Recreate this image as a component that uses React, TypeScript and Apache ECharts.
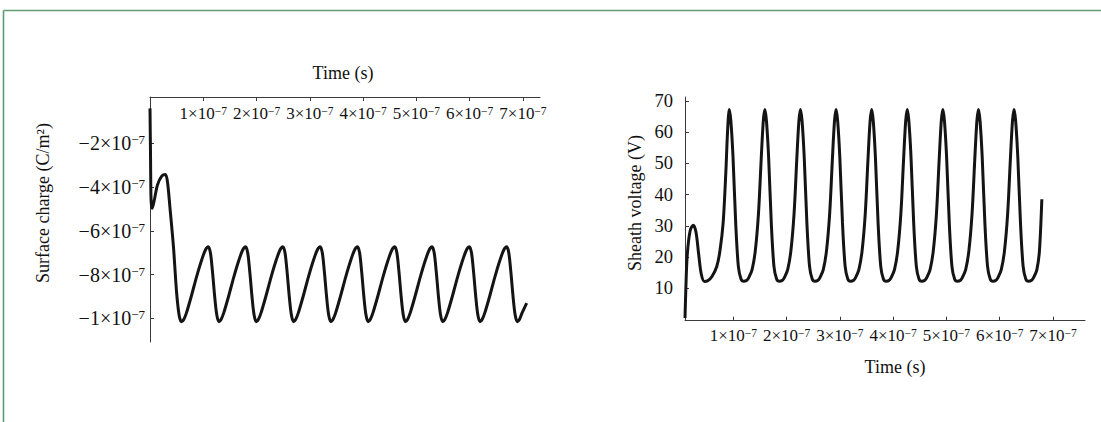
import React, { useEffect, useRef } from "react";
import * as echarts from "echarts";

// ---- Left panel: surface charge (time and charge both in units of 1e-7) ----
const leftTime = [
  0, 0.01, 0.02, 0.04, 0.08, 0.14, 0.22, 0.29, 0.33, 0.375, 0.44, 0.5, 0.55, 0.594,
  0.634, 0.684, 0.774, 0.874, 0.974, 1.044, 1.094, 1.134, 1.174, 1.214, 1.254, 1.294,
  1.334, 1.384, 1.474, 1.574, 1.674, 1.744, 1.794, 1.834, 1.874, 1.914, 1.954, 1.994,
  2.034, 2.084, 2.174, 2.274, 2.374, 2.444, 2.494, 2.534, 2.574, 2.614, 2.654, 2.694,
  2.734, 2.784, 2.874, 2.974, 3.074, 3.144, 3.194, 3.234, 3.274, 3.314, 3.354, 3.394,
  3.434, 3.484, 3.574, 3.674, 3.774, 3.844, 3.894, 3.934, 3.974, 4.014, 4.054, 4.094,
  4.134, 4.184, 4.274, 4.374, 4.474, 4.544, 4.594, 4.634, 4.674, 4.714, 4.754, 4.794,
  4.834, 4.884, 4.974, 5.074, 5.174, 5.244, 5.294, 5.334, 5.374, 5.414, 5.454, 5.494,
  5.534, 5.584, 5.674, 5.774, 5.874, 5.944, 5.994, 6.034, 6.074, 6.114, 6.154, 6.194,
  6.234, 6.284, 6.374, 6.474, 6.574, 6.644, 6.694, 6.734, 6.774, 6.814, 6.854, 6.894,
  6.934, 6.984, 7.07,
];
const leftCharge = [
  -0.4, -2.6, -4.6, -4.97, -4.6, -3.9, -3.5, -3.42, -3.8, -4.95, -6.72, -8.84, -9.9, -10.15,
  -10.05, -9.75, -9.0, -8.1, -7.3, -6.85, -6.72, -7.0, -7.9, -9.0, -9.85, -10.15,
  -10.05, -9.75, -9.0, -8.1, -7.3, -6.85, -6.72, -7.0, -7.9, -9.0, -9.85, -10.15,
  -10.05, -9.75, -9.0, -8.1, -7.3, -6.85, -6.72, -7.0, -7.9, -9.0, -9.85, -10.15,
  -10.05, -9.75, -9.0, -8.1, -7.3, -6.85, -6.72, -7.0, -7.9, -9.0, -9.85, -10.15,
  -10.05, -9.75, -9.0, -8.1, -7.3, -6.85, -6.72, -7.0, -7.9, -9.0, -9.85, -10.15,
  -10.05, -9.75, -9.0, -8.1, -7.3, -6.85, -6.72, -7.0, -7.9, -9.0, -9.85, -10.15,
  -10.05, -9.75, -9.0, -8.1, -7.3, -6.85, -6.72, -7.0, -7.9, -9.0, -9.85, -10.15,
  -10.05, -9.75, -9.0, -8.1, -7.3, -6.85, -6.72, -7.0, -7.9, -9.0, -9.85, -10.15,
  -10.05, -9.75, -9.0, -8.1, -7.3, -6.85, -6.72, -7.0, -7.9, -9.0, -9.85, -10.15,
  -10.05, -9.75, -9.3,
];

// ---- Right panel: sheath voltage (time in units of 1e-7, voltage in V) ----
const rightTime = [
  0.094, 0.11, 0.13, 0.16, 0.2, 0.25, 0.3, 0.35, 0.4, 0.46, 0.52, 0.6, 0.69, 0.75, 0.81, 0.86, 0.895, 0.925,
  0.955, 0.995, 1.045, 1.095, 1.145, 1.195, 1.255, 1.293, 1.353, 1.413, 1.473, 1.523, 1.563, 1.593,
  1.623, 1.663, 1.713, 1.763, 1.813, 1.863, 1.923, 1.961, 2.021, 2.081, 2.141, 2.191, 2.231, 2.261,
  2.291, 2.331, 2.381, 2.431, 2.481, 2.531, 2.591, 2.629, 2.689, 2.749, 2.809, 2.859, 2.899, 2.929,
  2.959, 2.999, 3.049, 3.099, 3.149, 3.199, 3.259, 3.297, 3.357, 3.417, 3.477, 3.527, 3.567, 3.597,
  3.627, 3.667, 3.717, 3.767, 3.817, 3.867, 3.927, 3.965, 4.025, 4.085, 4.145, 4.195, 4.235, 4.265,
  4.295, 4.335, 4.385, 4.435, 4.485, 4.535, 4.595, 4.633, 4.693, 4.753, 4.813, 4.863, 4.903, 4.933,
  4.963, 5.003, 5.053, 5.103, 5.153, 5.203, 5.263, 5.301, 5.361, 5.421, 5.481, 5.531, 5.571, 5.601,
  5.631, 5.671, 5.721, 5.771, 5.821, 5.871, 5.931, 5.969, 6.029, 6.089, 6.149, 6.199, 6.239, 6.269,
  6.299, 6.339, 6.389, 6.439, 6.489, 6.539, 6.599, 6.637, 6.697, 6.745, 6.79,
];
const rightVoltage = [
  0.5, 10, 19, 25, 29, 30.2, 28, 21, 14.5, 12.2, 12.4, 13.8, 17, 22, 31, 47, 61, 67.2,
  63.5, 52, 31, 17, 13, 12.3, 12.6, 13.5, 16, 22, 34, 51, 63.5, 67.2,
  63.5, 52, 31, 17, 13, 12.3, 12.6, 13.5, 16, 22, 34, 51, 63.5, 67.2,
  63.5, 52, 31, 17, 13, 12.3, 12.6, 13.5, 16, 22, 34, 51, 63.5, 67.2,
  63.5, 52, 31, 17, 13, 12.3, 12.6, 13.5, 16, 22, 34, 51, 63.5, 67.2,
  63.5, 52, 31, 17, 13, 12.3, 12.6, 13.5, 16, 22, 34, 51, 63.5, 67.2,
  63.5, 52, 31, 17, 13, 12.3, 12.6, 13.5, 16, 22, 34, 51, 63.5, 67.2,
  63.5, 52, 31, 17, 13, 12.3, 12.6, 13.5, 16, 22, 34, 51, 63.5, 67.2,
  63.5, 52, 31, 17, 13, 12.3, 12.6, 13.5, 16, 22, 34, 51, 63.5, 67.2,
  63.5, 52, 31, 17, 13, 12.3, 12.6, 13.5, 16, 22, 38.5,
];

// ---- Tick labels ----
const xTickValues = [1, 2, 3, 4, 5, 6, 7];
const xTickMantissa = ["1", "2", "3", "4", "5", "6", "7"];
const tickExponent = "−7";
const leftYTickValues = [-2, -4, -6, -8, -10];
const leftYTickMantissa = ["−2", "−4", "−6", "−8", "−1"];
const rightYTickValues = [10, 20, 30, 40, 50, 60, 70];

const leftXName = "Time (s)";
const leftYName = "Surface charge (C/m²)";
const rightXName = "Time (s)";
const rightYName = "Sheath voltage (V)";

const FONT = '"Liberation Serif", "DejaVu Serif", serif';
const INK = "#111111";
const AXIS = "#3a3a3a";

function sciRich(size: number, supSize: number) {
  return {
    m: { fontSize: size, fontFamily: FONT, color: INK },
    e: { fontSize: supSize, fontFamily: FONT, color: INK, verticalAlign: "top" },
  };
}

function fmtX(v: number) {
  const i = xTickValues.findIndex((t) => Math.abs(t - v) < 1e-9);
  if (i < 0) return "";
  return `{m|${xTickMantissa[i]}×10}{e|${tickExponent}}`;
}
function fmtLeftY(v: number) {
  const i = leftYTickValues.findIndex((t) => Math.abs(t - v) < 1e-9);
  if (i < 0) return "";
  return `{m|${leftYTickMantissa[i]}×10}{e|${tickExponent}}`;
}

export default function App() {
  const ref = useRef<HTMLDivElement>(null);
  useEffect(() => {
    if (!ref.current) return;
    const chart = echarts.init(ref.current, null, { renderer: "svg" });
    const leftData = leftTime.map((t, i) => [t, leftCharge[i]]);
    const rightData = rightTime.map((t, i) => [t, rightVoltage[i]]);
    const axisLineStyle = { show: true, onZero: false, lineStyle: { color: AXIS, width: 1 } };
    const nameStyle = (text: string) => ({
      text,
      font: `18px ${FONT}`,
      fontSize: 18,
      fontFamily: FONT,
      fill: INK,
      align: "center",
      verticalAlign: "middle",
      textAlign: "center",
      textVerticalAlign: "middle",
    });
    chart.setOption({
      animation: false,
      backgroundColor: "#ffffff",
      textStyle: { fontFamily: FONT },
      grid: [
        { left: 150, top: 97, width: 390, height: 245, containLabel: false },
        { left: 685, top: 97, width: 400, height: 223.7, containLabel: false },
      ],
      xAxis: [
        {
          gridIndex: 0,
          type: "value",
          position: "top",
          min: 0,
          max: 7.32,
          axisLine: axisLineStyle,
          axisTick: { show: true, inside: true, length: 4, customValues: xTickValues, lineStyle: { color: AXIS } },
          axisLabel: { inside: true, margin: 8, customValues: xTickValues, formatter: fmtX, rich: sciRich(17, 11.5) },
          splitLine: { show: false },
        },
        {
          gridIndex: 1,
          type: "value",
          position: "bottom",
          min: 0.094,
          max: 7.6,
          axisLine: axisLineStyle,
          axisTick: { show: true, inside: true, length: 4, customValues: xTickValues, lineStyle: { color: AXIS } },
          axisLabel: { margin: 6, customValues: xTickValues, formatter: fmtX, rich: sciRich(17, 11.5) },
          splitLine: { show: false },
        },
      ],
      yAxis: [
        {
          gridIndex: 0,
          type: "value",
          min: -11.08,
          max: 0.12,
          axisLine: axisLineStyle,
          axisTick: { show: true, inside: true, length: 4, customValues: leftYTickValues, lineStyle: { color: AXIS } },
          axisLabel: { margin: 5, customValues: leftYTickValues, formatter: fmtLeftY, rich: sciRich(20, 13) },
          splitLine: { show: false },
        },
        {
          gridIndex: 1,
          type: "value",
          min: -0.35,
          max: 71.2,
          axisLine: axisLineStyle,
          axisTick: { show: true, inside: true, length: 4, customValues: rightYTickValues, lineStyle: { color: AXIS } },
          axisLabel: { margin: 12, customValues: rightYTickValues, fontSize: 18.5, fontFamily: FONT, color: INK },
          splitLine: { show: false },
        },
      ],
      series: [
        {
          type: "line",
          xAxisIndex: 0,
          yAxisIndex: 0,
          data: leftData,
          showSymbol: false,
          smooth: 0.3,
          lineStyle: { color: "#141414", width: 3 },
        },
        {
          type: "line",
          xAxisIndex: 1,
          yAxisIndex: 1,
          data: rightData,
          showSymbol: false,
          smooth: 0.3,
          lineStyle: { color: "#141414", width: 3 },
        },
      ],
      graphic: [
        { type: "line", shape: { x1: 3.5, y1: 10.5, x2: 1101, y2: 10.5 }, style: { stroke: "#639a74", lineWidth: 1.6 } },
        { type: "line", shape: { x1: 3.5, y1: 10.5, x2: 3.5, y2: 422 }, style: { stroke: "#639a74", lineWidth: 1.6 } },
        { type: "text", x: 343, y: 73, style: nameStyle(leftXName) },
        { type: "text", x: 43, y: 203, rotation: Math.PI / 2, style: nameStyle(leftYName) },
        { type: "text", x: 635, y: 203, rotation: Math.PI / 2, style: nameStyle(rightYName) },
        { type: "text", x: 895, y: 367, style: nameStyle(rightXName) },
      ],
    });
    return () => chart.dispose();
  }, []);
  return (
    <div
      ref={ref}
      style={{ position: "absolute", left: 0, top: 0, width: 1101, height: 422, background: "#fff" }}
    />
  );
}
